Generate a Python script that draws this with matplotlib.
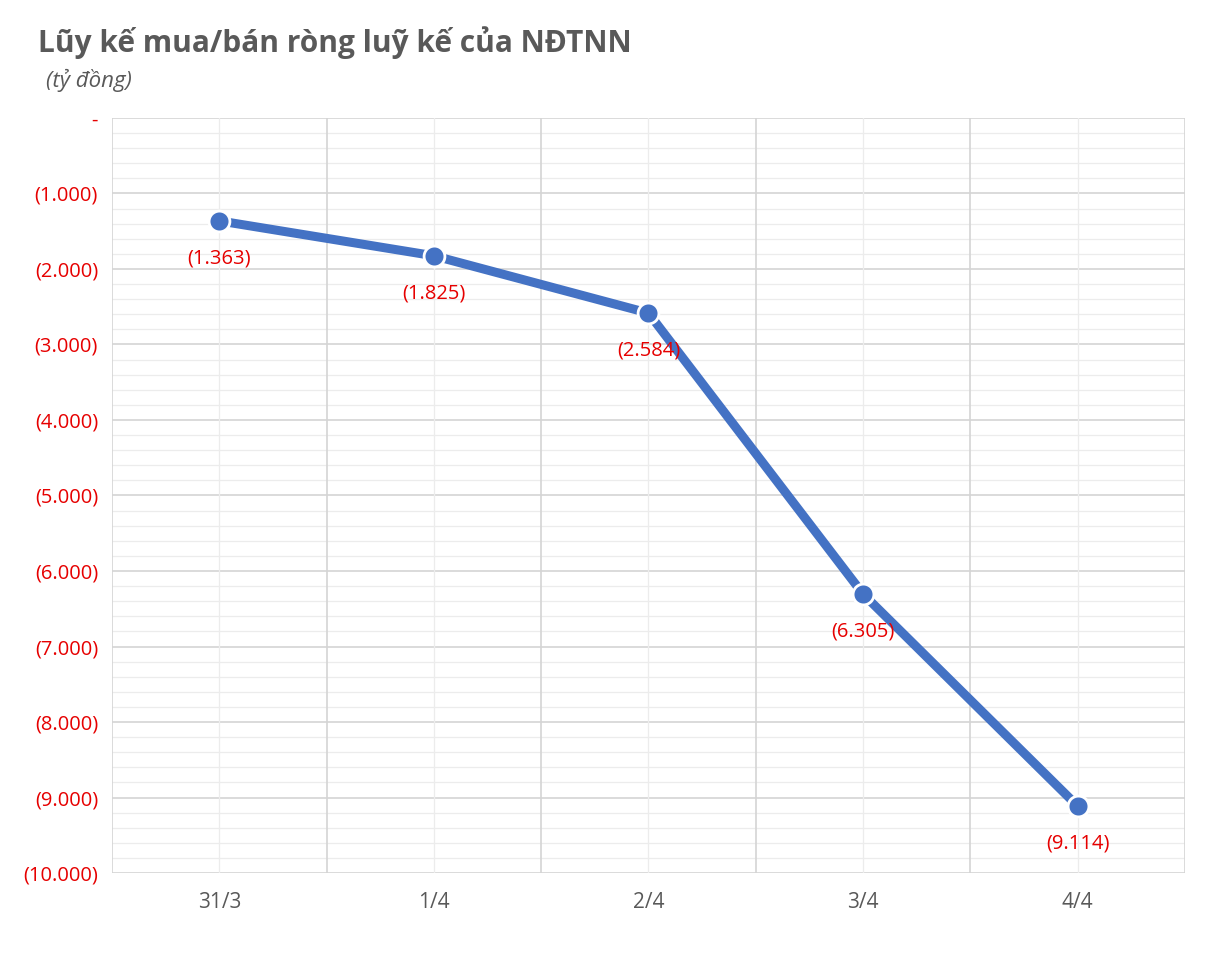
import matplotlib
matplotlib.use("Agg")
import matplotlib.pyplot as plt
import numpy as np

plt.rcParams['font.family'] = ['Open Sans', 'DejaVu Sans']

# dữ liệu
ngay = ['31/3', '1/4', '2/4', '3/4', '4/4']
luy_ke = [-1363, -1825, -2584, -6305, -9114]


def fmt(v):
    if v == 0:
        return '-'
    s = '{:,.0f}'.format(abs(v)).replace(',', '.')
    return '(' + s + ')' if v < 0 else s


fig = plt.figure(figsize=(12.2, 9.56), dpi=100)
ax = fig.add_axes([0.0918, 0.0868, 0.8795, 0.7898])

x = np.arange(len(ngay))
ax.set_xlim(-0.5, len(ngay) - 0.5)
ax.set_ylim(-10000, 0)

# lưới
for yy in np.arange(-10000, 1, 200):
    major = yy % 1000 == 0
    ax.axhline(yy, color='#d4d4d4' if major else '#ececec', lw=1.2 if major else 0.9, zorder=0)
for xx in np.arange(-0.5, len(ngay), 1):
    ax.axvline(xx, color='#d4d4d4', lw=1.2, zorder=0)
for xx in x:
    ax.axvline(xx, color='#ececec', lw=0.9, zorder=0)

ax.plot(x, luy_ke, color='#4472C4', lw=6.5, marker='o', markersize=15,
        markerfacecolor='#4472C4', markeredgecolor='white', markeredgewidth=2, zorder=3)

for xi, v in zip(x, luy_ke):
    ax.annotate(fmt(v), (xi, v), xytext=(0, -27), textcoords='offset points',
                ha='center', va='center', color='#e60000', fontsize=14.5, zorder=4)

ax.set_xticks(x)
ax.set_xticklabels(ngay, fontsize=15, color='#595959')
yt = np.arange(-10000, 1, 1000)
ax.set_yticks(yt)
ax.set_yticklabels([fmt(v) for v in yt], fontsize=14.5, color='#e60000')
ax.tick_params(length=0, pad=10)
ax.tick_params(axis='x', pad=14)
for s in ax.spines.values():
    s.set_visible(False)

fig.text(0.031, 0.955, 'Lũy kế mua/bán ròng luỹ kế của NĐTNN', fontsize=21.5,
         fontweight='bold', color='#595959', va='center')
fig.text(0.038, 0.916, '(tỷ đồng)', fontsize=16, style='italic', color='#595959', va='center')

fig.savefig('out.png', dpi=100)
